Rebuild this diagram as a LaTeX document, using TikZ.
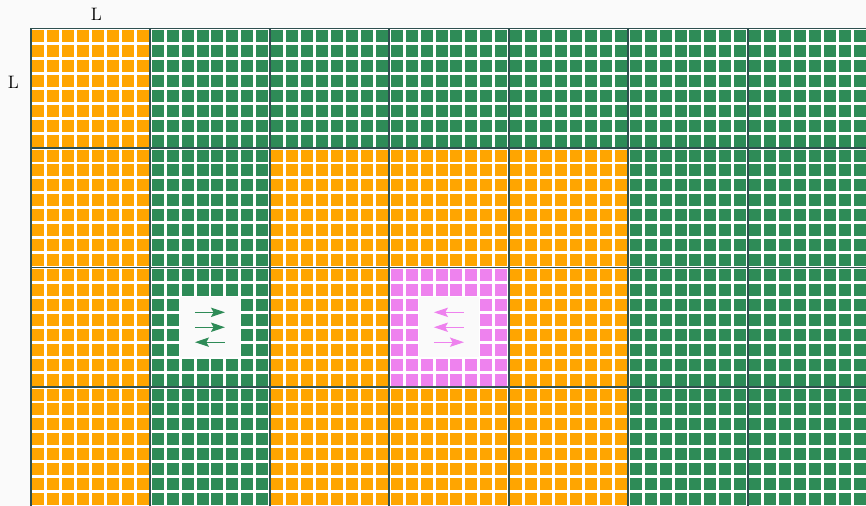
\documentclass[tikz,border=0pt]{standalone}
\usetikzlibrary{arrows.meta}
\definecolor{tileO}{RGB}{255,165,0}
\definecolor{tileG}{RGB}{46,139,87}
\definecolor{tileV}{RGB}{238,130,238}
\definecolor{gridslate}{RGB}{47,79,79}
\definecolor{bggray}{RGB}{250,250,250}

\begin{document}
\begin{tikzpicture}[
  x=0.75pt, y=-0.75pt,
  blockline/.style={draw=gridslate, line width=1.2pt},
  flow/.style={-{Stealth[length=10.5pt, width=7pt, inset=2pt]}, line width=0.8pt},
  sidetext/.style={font=\fontsize{13.5}{16}\selectfont, inner sep=0pt},
]
% canvas, 1 unit = 1 px of the 866x506 frame
\useasboundingbox[fill=bggray] (0,0) rectangle (866,506);
\clip (0,0) rectangle (866,506);

\node[sidetext] (ltop) at (96.5,14.5) {L};
\node[sidetext] (lside) at (13.5,82) {L};

% white backing under the tiles
\fill[white] (30.7,28.5) rectangle (870,510);

% 4 x 7 blocks of 8 x 8 cells
\foreach \tiles [count=\r from 0] in {{O,G,G,G,G,G,G},{O,G,O,O,O,G,G},{O,G,O,V,O,G,G},{O,G,O,O,O,G,G}}{
  \foreach \t [count=\k from 0] in \tiles {
    \foreach \i in {0,...,7}
      \foreach \j in {0,...,7}
        \fill[tile\t] ({30.7+\k*119.5+\i*14.9375+1.5},{28.5+\r*119.5+\j*14.9375+1.5}) rectangle +(12,12);
  }
}

% empty centres
\foreach \k in {1,3}
  \fill[bggray] ({30.7+\k*119.5+2*14.9375},{28.5+2*119.5+2*14.9375}) rectangle +(59.75,59.75);

% block borders
\foreach \k in {0,...,7}
  \draw[blockline] ({30.7+\k*119.5},28.5) -- ({30.7+\k*119.5},510);
\foreach \r in {0,...,4}
  \draw[blockline] (30.7,{28.5+\r*119.5}) -- (870,{28.5+\r*119.5});

% arrows in the empty centres
\foreach \k/\col/\dirs in {1/tileG/{1,1,-1}, 3/tileV/{-1,-1,1}}{
  \foreach \s [count=\m from -1] in \dirs {
    \coordinate (from) at ({30.7+(\k+0.5)*119.5-\s*15},{28.5+2.5*119.5+\m*14.9375});
    \coordinate (to) at ({30.7+(\k+0.5)*119.5+\s*15},{28.5+2.5*119.5+\m*14.9375});
    \draw[flow, \col] (from) -- (to);
  }
}
\end{tikzpicture}
\end{document}
